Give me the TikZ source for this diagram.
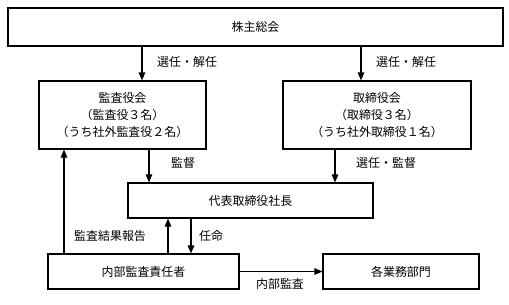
\documentclass[tikz,border=0pt]{standalone}
\usepackage{fontspec}
\setmainfont{Noto Sans CJK JP}
\usetikzlibrary{arrows.meta}
\begin{document}
\begin{tikzpicture}[x=1bp,y=-1bp,
  box/.style={draw,line width=1.1bp,rectangle,inner sep=0pt,align=center,font=\fontsize{12}{17.3}\selectfont},
  lbl/.style={inner sep=0pt,font=\fontsize{12}{14}\selectfont},
  arr/.style={line width=1.1bp,-{Triangle[length=8bp,width=6.5bp]}}]
\useasboundingbox (0,0) rectangle (509,304);
\node[box,minimum width=495bp,minimum height=38bp] (kabu) at (255.5,27) {株主総会};
\node[box,minimum width=167bp,minimum height=68bp] (kansa) at (122.5,115) {監査役会\\（監査役３名）\\（うち社外監査役２名）};
\node[box,minimum width=188bp,minimum height=68bp] (tori) at (377,115) {取締役会\\（取締役３名）\\（うち社外取締役１名）};
\node[box,minimum width=245bp,minimum height=35bp] (daihyo) at (250.5,200.5) {代表取締役社長};
\node[box,minimum width=191bp,minimum height=35bp] (naibu) at (143.5,271.5) {内部監査責任者};
\node[box,minimum width=156bp,minimum height=35bp] (kaku) at (401,271.5) {各業務部門};
\coordinate (xa) at (142,0);
\coordinate (xb) at (361,0);
\coordinate (xc) at (149,0);
\coordinate (xd) at (335,0);
\coordinate (xe) at (64,0);
\coordinate (xf) at (168,0);
\coordinate (xg) at (191,0);
\draw[arr] (kabu.south -| xa) -- (kansa.north -| xa);
\draw[arr] (kabu.south -| xb) -- (tori.north -| xb);
\draw[arr] (kansa.south -| xc) -- (daihyo.north -| xc);
\draw[arr] (tori.south -| xd) -- (daihyo.north -| xd);
\draw[arr] (naibu.north -| xe) -- (kansa.south -| xe);
\draw[arr] (naibu.north -| xf) -- (daihyo.south -| xf);
\draw[arr] (daihyo.south -| xg) -- (naibu.north -| xg);
\draw[arr] (naibu.east) -- (kaku.west);
\node[lbl,anchor=west] (l1) at (157,62) {選任・解任};
\node[lbl,anchor=west] (l2) at (376,62) {選任・解任};
\node[lbl,anchor=west] (l3) at (171,163) {監督};
\node[lbl,anchor=west] (l4) at (356,163) {選任・監督};
\node[lbl,anchor=west] (l5) at (74,236) {監査結果報告};
\node[lbl,anchor=west] (l6) at (199,236) {任命};
\node[lbl] (l7) at (280,284) {内部監査};
\end{tikzpicture}
\end{document}
